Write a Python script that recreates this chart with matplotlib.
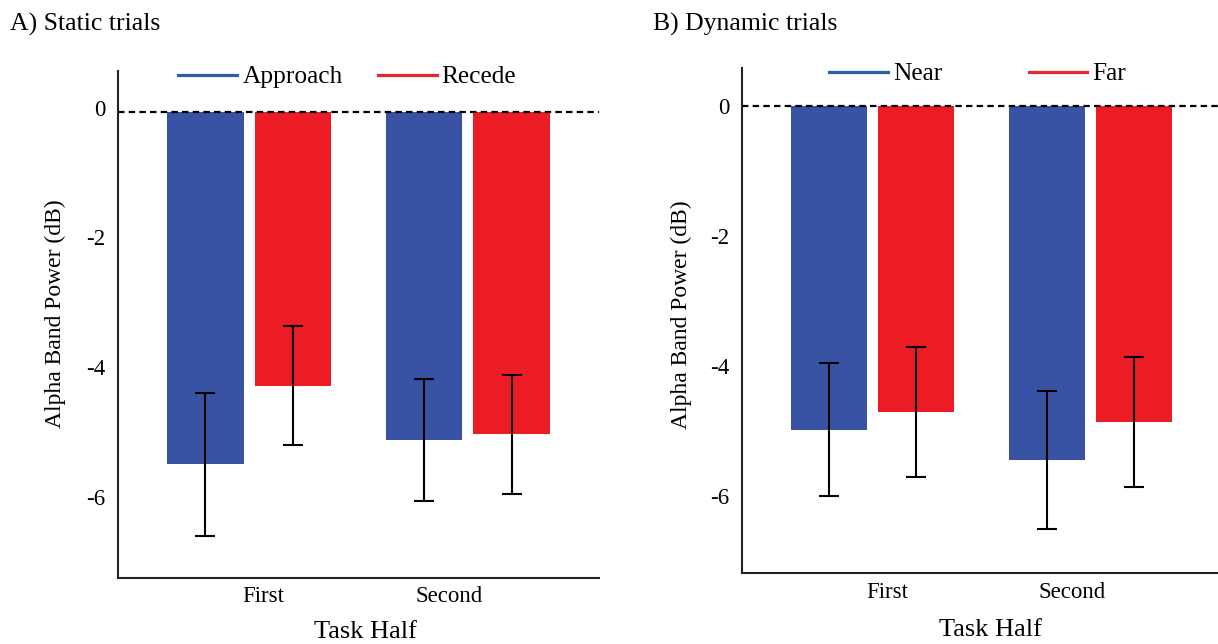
import numpy as np
import matplotlib.pyplot as plt
from matplotlib.lines import Line2D
from matplotlib.transforms import ScaledTranslation

plt.rcParams['font.family'] = ['Liberation Serif', 'DejaVu Serif']

halves = ["First", "Second"]
y_ticks = [0, -2, -4, -6]

# static trials: mean alpha power and error per task half
static_names = ["Approach", "Recede"]
static_approach = [-5.44, -5.06]
static_approach_err = [1.10, 0.94]
static_recede = [-4.23, -4.98]
static_recede_err = [0.92, 0.92]

# dynamic trials
dynamic_names = ["Near", "Far"]
dynamic_near = [-4.98, -5.45]
dynamic_near_err = [1.02, 1.06]
dynamic_far = [-4.71, -4.86]
dynamic_far_err = [1.00, 1.00]

BLUE = "#3953a4"
RED = "#ec1c24"
BLUE_LINE = "#2e5fab"
RED_LINE = "#e8272d"


def draw_panel(ax, left, left_err, right, right_err, ylim, xlab_pos, ylab_pos):
    x = np.arange(len(halves))
    ax.bar(x - 0.2, left, width=0.35, color=BLUE, zorder=2)
    ax.bar(x + 0.2, right, width=0.35, color=RED, zorder=2)
    for pos, vals, errs in [(x - 0.2, left, left_err), (x + 0.2, right, right_err)]:
        ax.errorbar(pos, vals, yerr=errs, fmt='none', ecolor='black',
                    elinewidth=1.5, capsize=7.5, capthick=1.5, zorder=3)
    ax.axhline(0, color='black', lw=1.6, ls=(0, (2.9, 1.9)), zorder=4)

    ax.set_xlim(-0.6, 1.6)
    ax.set_ylim(*ylim)
    ax.set_yticks(y_ticks)
    ax.set_yticklabels([str(t) for t in y_ticks])
    ax.set_xticks([0.065, 0.915])
    ax.set_xticklabels(halves)
    ax.tick_params(length=0, labelsize=16.5)
    ax.tick_params(axis='y', pad=9)
    ax.tick_params(axis='x', pad=6)
    for side in ['top', 'right']:
        ax.spines[side].set_visible(False)
    for side in ['left', 'bottom']:
        ax.spines[side].set_color('#222222')
        ax.spines[side].set_linewidth(1.5)
    ax.set_xlabel("Task Half", fontsize=19)
    ax.set_ylabel("Alpha Band Power (dB)", fontsize=17)
    ax.xaxis.set_label_coords(*xlab_pos)
    ax.yaxis.set_label_coords(*ylab_pos)


def add_legend(fig, ax, names, x0, y0, spacing):
    handles = [Line2D([], [], color=BLUE_LINE, lw=2.3),
               Line2D([], [], color=RED_LINE, lw=2.3)]
    ax.legend(handles, names, ncol=2, frameon=False, fontsize=18.3,
              handlelength=2.32, handletextpad=0.2, columnspacing=spacing,
              borderpad=0, borderaxespad=0, loc='center left',
              bbox_to_anchor=(x0 / 1218, 1 - y0 / 644),
              bbox_transform=fig.transFigure)


fig = plt.figure(figsize=(12.18, 6.44), dpi=100)

ax_a = fig.add_axes([0.0969, 0.1030, 0.3949, 0.7873])
draw_panel(ax_a, static_approach, static_approach_err,
           static_recede, static_recede_err, (-7.19, 0.633),
           (0.515, -0.085), (-0.108, 0.52))
# nudge the static y labels up slightly
shift = ScaledTranslation(0, 0.04, fig.dpi_scale_trans)
for lbl in ax_a.get_yticklabels():
    lbl.set_transform(lbl.get_transform() + shift)
add_legend(fig, ax_a, static_names, 178.3, 77, 1.38)

ax_b = fig.add_axes([0.6094, 0.1098, 0.3930, 0.7842])
draw_panel(ax_b, dynamic_near, dynamic_near_err,
           dynamic_far, dynamic_far_err, (-7.19, 0.575),
           (0.519, -0.0905), (-0.106, 0.513))
add_legend(fig, ax_b, dynamic_names, 829.3, 74, 3.38)

fig.text(10 / 1218, 1 - 30.7 / 644, "A) Static trials", fontsize=18.5, va='baseline')
fig.text(653 / 1218, 1 - 30.7 / 644, "B) Dynamic trials", fontsize=18.5, va='baseline')

fig.savefig("out.png", dpi=100, facecolor='white')
